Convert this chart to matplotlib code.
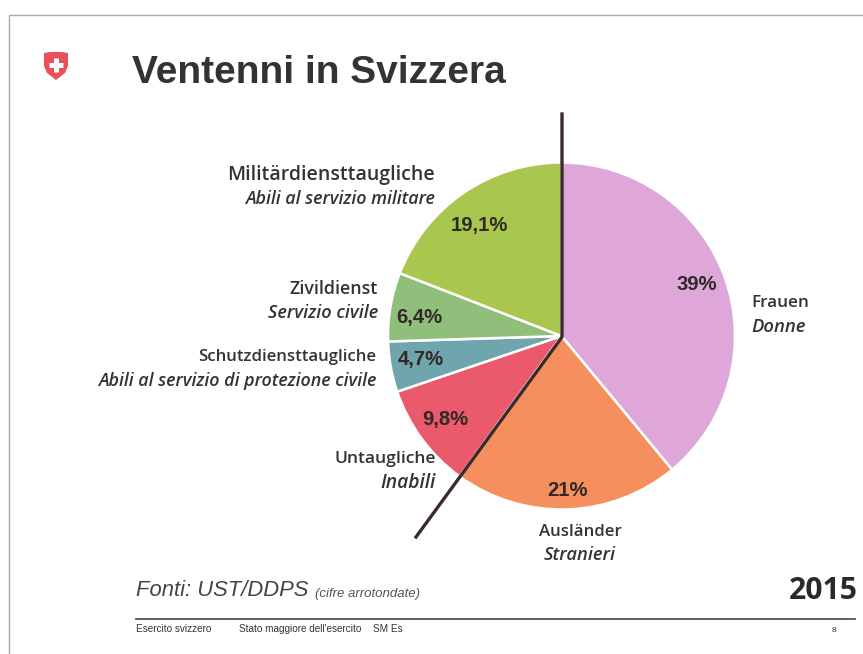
import matplotlib
matplotlib.use("Agg")
import matplotlib.pyplot as plt
from matplotlib.patches import Polygon

W, H = 863, 654

# slices, clockwise from the top
shares = [39, 21, 9.8, 4.7, 6.4, 19.1]
share_labels = ["39%", "21%", "9,8%", "4,7%", "6,4%", "19,1%"]
colors = ["#dfa6da", "#f58f5e", "#ea5a6c", "#6fa5ad", "#8fbf7a", "#a9c64f"]
names_de = ["Frauen", "Ausländer", "Untaugliche", "Schutzdiensttaugliche", "Zivildienst", "Militärdiensttaugliche"]
names_it = ["Donne", "Stranieri", "Inabili", "Abili al servizio di protezione civile", "Servizio civile", "Abili al servizio militare"]

def py(y):
    return H - y

fig = plt.figure(figsize=(W / 100, H / 100), dpi=100, facecolor="white")
ax = fig.add_axes([0, 0, 1, 1])

wedges, _ = ax.pie(shares, colors=colors, startangle=90, counterclock=False,
                   center=(561.5, py(336)), radius=173.5, frame=True,
                   wedgeprops=dict(edgecolor="white", linewidth=1.8))
ax.set_xlim(0, W)
ax.set_ylim(0, H)
ax.axis("off")

# scan frame
ax.plot([9, 9, W], [py(H), py(15), py(15)], color="#aaaaaa", lw=1)

# shield
shield = [(44, 53), (50, 52), (62, 52), (68, 53), (68, 66), (65, 73), (56, 80), (47, 73), (44, 66)]
ax.add_patch(Polygon([(x, py(y)) for x, y in shield], closed=True, color="#e8505b", lw=0))
ax.plot([56, 56], [py(58), py(72)], color="white", lw=3.6, solid_capstyle="butt")
ax.plot([49, 63], [py(65), py(65)], color="white", lw=3.6, solid_capstyle="butt")

ax.text(132, py(73), "Ventenni in Svizzera", fontsize=28, fontweight="bold",
        family="Liberation Sans", color="#333333", va="center", ha="left")

# black divider lines
ax.plot([562, 562, 416], [py(114), py(337), py(537)], color="#3a2a2a", lw=2.4, solid_joinstyle="miter")

# percent labels
pct_pos = [(697, 285), (567, 491), (445.5, 420), (421, 360), (419.5, 318), (479, 226)]
for (x, y), txt in zip(pct_pos, share_labels):
    ax.text(x, py(y), txt, fontsize=14.6, fontweight="bold", family="Liberation Sans",
            color="#2f2a25", ha="center", va="center")

# name labels: x, anchor, y of first line, y of second line
name_pos = [(751, "left", 303, 327), (580, "center", 532, 555), (436, "right", 459, 483),
            (376, "right", 357, 381), (378, "right", 289, 313), (435, "right", 175, 199)]
de_sizes = [12.3, 12.2, 12.6, 12.1, 12.8, 14]
it_sizes = [13.3, 13.2, 13.9, 12.9, 13.1, 12.9]
for (x, ha, y1, y2), de, it, s1, s2 in zip(name_pos, names_de, names_it, de_sizes, it_sizes):
    ax.text(x, py(y1), de, fontsize=s1, family="Open Sans", fontweight="semibold", color="#333333", ha=ha, va="center")
    ax.text(x, py(y2), it, fontsize=s2, family="Open Sans", fontweight="semibold", style="italic", color="#333333", ha=ha, va="center")

# footer
ax.text(136, py(591), "Fonti: UST/DDPS", fontsize=15.8, style="italic", family="Liberation Sans", color="#444444", va="center")
ax.text(315, py(594), "(cifre arrotondate)", fontsize=9.5, style="italic", family="Liberation Sans", color="#555555", va="center")
ax.text(858, py(591), "2015", fontsize=21.7, fontweight="bold", family="Open Sans", color="#2a2a2a", ha="right", va="center")
ax.plot([136, 855], [py(619), py(619)], color="#555555", lw=1.3)
ax.text(136, py(629), "Esercito svizzero", fontsize=7.2, family="Liberation Sans", color="#333333", va="center")
ax.text(239, py(629), "Stato maggiore dell'esercito", fontsize=7.2, family="Liberation Sans", color="#333333", va="center")
ax.text(373, py(629), "SM Es", fontsize=7.2, family="Liberation Sans", color="#333333", va="center")
ax.text(836, py(630), "8", fontsize=6, family="Liberation Sans", color="#333333", ha="right", va="center")

fig.savefig("out.png", dpi=100)
